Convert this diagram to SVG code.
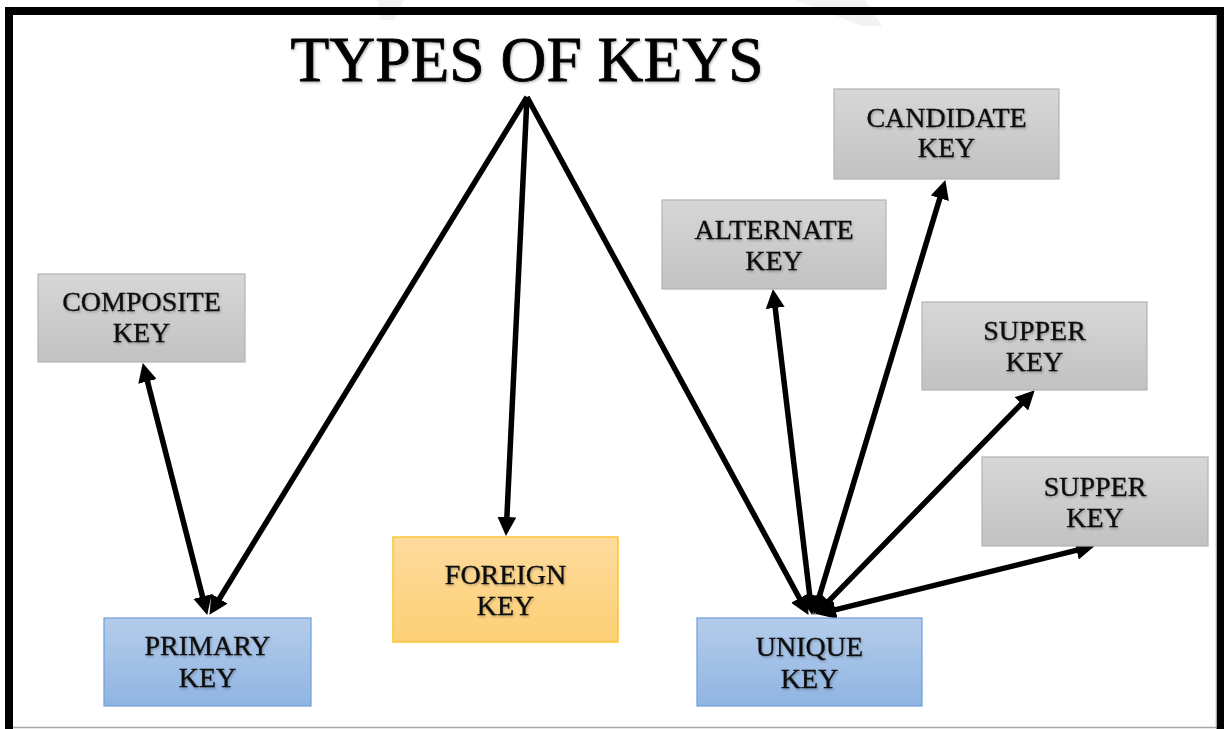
<svg xmlns="http://www.w3.org/2000/svg" width="1224" height="729" viewBox="0 0 1224 729">
  <defs>
    <linearGradient id="gGrey" x1="0" y1="0" x2="0" y2="1">
      <stop offset="0" stop-color="#d7d7d7"/>
      <stop offset="1" stop-color="#c2c2c2"/>
    </linearGradient>
    <linearGradient id="gBlue" x1="0" y1="0" x2="0" y2="1">
      <stop offset="0" stop-color="#b5cdeb"/>
      <stop offset="1" stop-color="#8fb4e2"/>
    </linearGradient>
    <linearGradient id="gOrange" x1="0" y1="0" x2="0" y2="1">
      <stop offset="0" stop-color="#fedb9d"/>
      <stop offset="1" stop-color="#fdd075"/>
    </linearGradient>
    <filter id="soft" x="-10%" y="-20%" width="120%" height="150%">
      <feDropShadow dx="1" dy="1.5" stdDeviation="1" flood-color="#000" flood-opacity="0.28"/>
    </filter>
    <marker id="head" viewBox="0 0 19 19" refX="10" refY="9.5" markerWidth="19" markerHeight="19" markerUnits="userSpaceOnUse" orient="auto-start-reverse">
      <path d="M0,0 L19,9.5 L0,19 Z" fill="#000"/>
    </marker>
    <style>
      .box-grey { fill: url(#gGrey); stroke: #b3b3b3; stroke-width: 1.2; }
      .box-blue { fill: url(#gBlue); stroke: #6c9edb; stroke-width: 1.2; }
      .box-orange { fill: url(#gOrange); stroke: #fbc634; stroke-width: 1.5; }
      .lbl { font-family: "Liberation Serif", "Times New Roman", serif; font-size: 28px; fill: #111; stroke: #111; stroke-width: 0.35; text-anchor: middle; filter: url(#soft); }
      .title { font-family: "Liberation Serif", "Times New Roman", serif; font-size: 64px; fill: #000; stroke: #000; stroke-width: 0.8; text-anchor: middle; filter: url(#soft); }
      .link { stroke: #000; stroke-width: 5.5; fill: none; }
      .one { marker-end: url(#head); }
      .both { marker-start: url(#head); marker-end: url(#head); }
    </style>
  </defs>

  <!-- page background and faint watermark strokes -->
  <rect x="0" y="0" width="1224" height="729" fill="#fff"/>
  <polygon points="378,0 404,0 394,20 380,20" fill="#f2f2f2"/>
  <polygon points="795,0 865,0 882,26 862,26" fill="#f3f3f3"/>

  <!-- frame -->
  <path d="M9,729 V11 H1220.5 V729" fill="none" stroke="#000" stroke-width="8"/>
  <line x1="1216" y1="15" x2="1216" y2="727" stroke="#cfcfcf" stroke-width="1"/>
  <line x1="13" y1="727.5" x2="1216" y2="727.5" stroke="#a8a8a8" stroke-width="1.5"/>

  <!-- title -->
  <g id="title">
    <text class="title" x="527" y="81" textLength="473" lengthAdjust="spacingAndGlyphs">TYPES OF KEYS</text>
  </g>

  <!-- connectors -->
  <g id="connectors">
    <line class="link one" x1="527" y1="97" x2="214.2" y2="607.2"/>
    <line class="link one" x1="527" y1="97" x2="506.4" y2="527"/>
    <line class="link one" x1="527" y1="97" x2="804.2" y2="607"/>
    <line class="link both" x1="145" y1="371.8" x2="205" y2="606.2"/>
    <line class="link both" x1="811" y1="606" x2="774" y2="298"/>
    <line class="link both" x1="816.3" y1="606.3" x2="942.7" y2="188.7"/>
    <line class="link both" x1="821.6" y1="608.3" x2="1028.4" y2="396.7"/>
    <line class="link both" x1="825.8" y1="612.1" x2="1086.2" y2="547.9"/>
  </g>

  <!-- nodes -->
  <g id="composite-key">
    <rect class="box-grey" x="38" y="274" width="207" height="88"/>
    <text class="lbl" x="141.5" y="311">COMPOSITE</text>
    <text class="lbl" x="141.5" y="342">KEY</text>
  </g>
  <g id="primary-key">
    <rect class="box-blue" x="104" y="618" width="207" height="88"/>
    <text class="lbl" x="207.5" y="655">PRIMARY</text>
    <text class="lbl" x="207.5" y="687">KEY</text>
  </g>
  <g id="foreign-key">
    <rect class="box-orange" x="393" y="537" width="225" height="105"/>
    <text class="lbl" x="505.5" y="584">FOREIGN</text>
    <text class="lbl" x="505.5" y="615">KEY</text>
  </g>
  <g id="unique-key">
    <rect class="box-blue" x="697" y="618" width="225" height="88"/>
    <text class="lbl" x="809.5" y="656">UNIQUE</text>
    <text class="lbl" x="809.5" y="688">KEY</text>
  </g>
  <g id="alternate-key">
    <rect class="box-grey" x="662" y="200" width="224" height="89"/>
    <text class="lbl" x="774" y="239">ALTERNATE</text>
    <text class="lbl" x="774" y="270">KEY</text>
  </g>
  <g id="candidate-key">
    <rect class="box-grey" x="834" y="89" width="225" height="90"/>
    <text class="lbl" x="946.5" y="127">CANDIDATE</text>
    <text class="lbl" x="946.5" y="157">KEY</text>
  </g>
  <g id="supper-key-1">
    <rect class="box-grey" x="922" y="302" width="225" height="88"/>
    <text class="lbl" x="1034.5" y="340">SUPPER</text>
    <text class="lbl" x="1034.5" y="371">KEY</text>
  </g>
  <g id="supper-key-2">
    <rect class="box-grey" x="982" y="457" width="226" height="89"/>
    <text class="lbl" x="1095" y="496">SUPPER</text>
    <text class="lbl" x="1095" y="527">KEY</text>
  </g>
</svg>
